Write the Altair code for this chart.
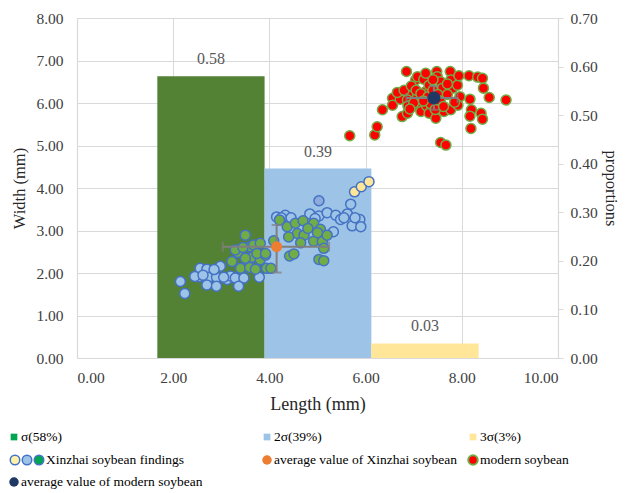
import altair as alt
import pandas as pd

# ---------------- data ----------------
bar_labels = ["σ", "2σ", "3σ"]
bar_x0 = [1.67, 3.90, 6.12]
bar_x1 = [3.90, 6.12, 8.35]
bar_prop = [0.58, 0.39, 0.03]
bar_text = ["0.58", "0.39", "0.03"]
bar_colors = ["#548235", "#9DC3E6", "#FFE699"]

xz_blue_x = [2.15, 2.24, 2.53, 2.56, 2.70, 2.98, 2.74, 2.90, 2.70, 2.90, 3.12, 3.19, 3.29, 3.47, 3.36, 3.79,
             2.45, 2.62, 2.85, 3.05,
             4.15, 4.33, 4.84, 5.03, 5.20, 5.38, 5.48, 5.62, 5.69, 5.72, 5.88, 5.90, 5.33, 4.25, 4.95, 5.55, 5.78, 4.45]
xz_blue_y = [1.80, 1.52, 1.91, 2.11, 2.09, 2.16, 1.90, 1.90, 1.72, 1.69, 1.85, 1.93, 1.88, 1.88, 1.69, 1.90,
             1.92, 1.95, 2.08, 1.90,
             3.32, 3.36, 3.39, 3.34, 3.42, 3.36, 3.26, 3.39, 3.62, 3.11, 3.26, 3.09, 2.97, 3.30, 3.28, 3.30, 3.30, 3.30]
xz_dark_x = [5.03]
xz_dark_y = [3.70]
xz_yellow_x = [5.77, 5.91, 6.07]
xz_yellow_y = [3.91, 4.03, 4.15]
xz_green_x = [3.50, 3.34, 3.22, 3.40, 3.60, 3.67, 3.81, 3.64, 3.59, 3.71, 3.81, 3.92, 3.94, 4.03, 3.74, 3.29, 3.50, 3.45,
              4.21, 4.37, 4.54, 4.70, 4.92, 5.06, 4.58, 4.72, 4.40, 4.65, 4.92, 5.10, 5.20, 5.13, 4.42, 4.51, 5.03, 5.13,
              4.09, 3.92, 4.80, 5.00]
xz_green_y = [2.89, 2.48, 2.27, 2.11, 2.62, 2.66, 2.70, 2.37, 2.13, 2.09, 2.31, 2.42, 2.11, 2.11, 2.46, 2.54, 2.35, 2.60,
              3.25, 3.09, 3.17, 3.23, 3.17, 3.03, 2.93, 2.89, 2.85, 2.71, 2.75, 2.74, 2.89, 2.58, 2.40, 2.45, 2.32, 2.29,
              2.76, 2.46, 3.05, 2.95]

modern_x = [5.67, 6.19, 6.24, 6.35, 6.56, 6.56, 6.72, 6.76, 6.87, 6.85, 7.04, 7.08, 7.21, 6.97, 7.08, 7.11, 7.15,
            7.27, 7.32, 7.25, 7.32, 7.46, 7.48, 7.49, 7.56, 7.60, 7.76, 7.77, 7.81, 7.91, 7.94, 7.96, 7.63, 7.77,
            7.92, 7.56, 7.67, 8.15, 8.33, 8.43, 8.45, 8.57, 8.17, 8.20, 8.40, 8.17, 8.43, 8.19, 8.92, 6.87, 6.88,
            6.66, 6.80, 6.95, 7.05, 7.15, 7.30, 7.40, 7.50, 7.70, 7.55, 7.35, 7.20, 7.00, 6.92, 7.45, 7.62, 7.85,
            7.70, 7.40, 7.25]
modern_y = [5.23, 5.25, 5.44, 5.84, 6.11, 5.95, 6.09, 5.68, 5.76, 6.74, 6.54, 6.62, 6.56, 6.19, 6.15, 5.91, 5.80,
            5.93, 5.76, 6.27, 6.42, 5.64, 6.74, 6.62, 6.50, 6.35, 6.74, 6.54, 6.35, 6.42, 6.64, 6.15, 5.80, 5.84,
            5.95, 5.07, 5.01, 6.64, 6.61, 6.58, 6.35, 6.13, 6.09, 5.84, 5.76, 5.69, 5.62, 5.40, 6.07, 6.07, 5.93,
            6.25, 6.30, 6.40, 6.30, 6.22, 6.15, 6.30, 6.20, 6.20, 6.05, 5.98, 6.05, 6.00, 5.86, 5.85, 5.92, 6.02,
            6.45, 6.55, 6.70]

xz_avg = {"x": 4.15, "y": 2.62, "xlo": 3.03, "xhi": 5.24, "ylo": 2.01, "yhi": 3.13}
mod_avg = {"x": 7.42, "y": 6.12, "xlo": 6.85, "xhi": 7.91, "ylo": 5.84, "yhi": 6.40}

FONT = "Liberation Serif"

bars = pd.DataFrame({"label": bar_labels, "x0": bar_x0, "x1": bar_x1, "p": bar_prop, "t": bar_text,
                     "c": bar_colors})
bars["xm"] = (bars["x0"] + bars["x1"]) / 2

xscale = alt.Scale(domain=[0, 10], nice=False)
yL = alt.Scale(domain=[0, 8], nice=False)
yR = alt.Scale(domain=[0, 0.7], nice=False)

x_axis = alt.Axis(values=[0, 2, 4, 6, 8, 10], format=".2f", title="Length (mm)", grid=True,
                  ticks=False, labelPadding=12, titlePadding=10, titleFontSize=18)
right_axis = alt.Axis(orient="right", values=[0, .1, .2, .3, .4, .5, .6, .7],
                      format=".2f", title="proportions", grid=False, ticks=True,
                      tickSize=5, tickColor="#D9D9D9", labelPadding=7, titlePadding=5)
left_axis = alt.Axis(orient="left", values=list(range(9)), format=".2f", title="Width (mm)", grid=True,
                     ticks=False, labelPadding=14, titlePadding=8)

# right axis group (bars)
bar_layer = alt.Chart(bars).mark_rect().encode(
    x=alt.X("x0:Q", scale=xscale, axis=x_axis),
    x2="x1:Q",
    y=alt.Y("p:Q", scale=yR, axis=right_axis),
    y2=alt.datum(0),
    color=alt.Color("c:N", scale=None),
)
bar_text_layer = alt.Chart(bars).mark_text(font=FONT, fontSize=16, color="#595959", dy=-17,
                                            baseline="middle").encode(
    x=alt.X("xm:Q", scale=xscale, axis=x_axis),
    y=alt.Y("p:Q", scale=yR, axis=right_axis),
    text="t:N",
)
right_group = alt.layer(bar_layer, bar_text_layer)


def pts(xs, ys, fill, stroke, size=100, sw=1.5):
    df = pd.DataFrame({"x": xs, "y": ys})
    return alt.Chart(df).mark_point(filled=True, shape="circle", fill=fill, stroke=stroke,
                                    strokeWidth=sw, size=size, opacity=1).encode(
        x=alt.X("x:Q", scale=xscale, axis=x_axis),
        y=alt.Y("y:Q", scale=yL, axis=left_axis),
    )


p_blue = pts(xz_blue_x, xz_blue_y, "#9DC3E6", "#4472C4")
p_green = pts(xz_green_x, xz_green_y, "#70AD47", "#4472C4")
p_dark = pts(xz_dark_x, xz_dark_y, "#8FAADC", "#4472C4")
p_yel = pts(xz_yellow_x, xz_yellow_y, "#FFE699", "#4472C4")
p_mod = pts(modern_x, modern_y, "#FF0000", "#70AD47")


def errbars(a, color="#7F7F7F"):
    df = pd.DataFrame([a])
    X = lambda f: alt.X(f, scale=xscale, axis=x_axis)
    Y = lambda f: alt.Y(f, scale=yL, axis=left_axis)
    h = alt.Chart(df).mark_rule(color=color, strokeWidth=2).encode(x=X("xlo:Q"), x2="xhi:Q", y=Y("y:Q"))
    v = alt.Chart(df).mark_rule(color=color, strokeWidth=2).encode(x=X("x:Q"), y=Y("ylo:Q"), y2="yhi:Q")
    capl = alt.Chart(df).mark_tick(color=color, orient="vertical", size=10, thickness=2).encode(
        x=X("xlo:Q"), y=Y("y:Q"))
    capr = alt.Chart(df).mark_tick(color=color, orient="vertical", size=10, thickness=2).encode(
        x=X("xhi:Q"), y=Y("y:Q"))
    capb = alt.Chart(df).mark_tick(color=color, orient="horizontal", size=10, thickness=2).encode(
        x=X("x:Q"), y=Y("ylo:Q"))
    capt = alt.Chart(df).mark_tick(color=color, orient="horizontal", size=10, thickness=2).encode(
        x=X("x:Q"), y=Y("yhi:Q"))
    return [h, v, capl, capr, capb, capt]


xz_err = errbars(xz_avg)
mod_err = errbars(mod_avg)
p_xzavg = pts([xz_avg["x"]], [xz_avg["y"]], "#ED7D31", "#ED7D31", size=120, sw=0)
p_modavg = pts([mod_avg["x"]], [mod_avg["y"]], "#203864", "#203864", size=170, sw=0)

# ---------------- legend (decoration) ----------------
one = alt.Data(values=[{"a": 1}])
LFS = 13.5


def lg_square(px, py, color):
    return alt.Chart(one).mark_square(size=45, color=color, opacity=1).encode(
        x=alt.value(px), y=alt.value(py))


def lg_circle(px, py, fill, stroke, sw=1.5, size=90):
    return alt.Chart(one).mark_point(filled=True, shape="circle", fill=fill, stroke=stroke,
                                     strokeWidth=sw, size=size, opacity=1).encode(
        x=alt.value(px), y=alt.value(py))


def lg_text(px, py, t):
    return alt.Chart(one).mark_text(text=t, font=FONT, fontSize=LFS, align="left", baseline="middle",
                                    color="#000000").encode(x=alt.value(px), y=alt.value(py))


r1, r2, r3 = 419, 442, 464
c1, c2, c3 = -63, 190, 396
legend = [
    lg_square(c1, r1, "#00A651"), lg_text(c1 + 7, r1, "σ(58%)"),
    lg_square(c2, r1, "#9DC3E6"), lg_text(c2 + 7, r1, "2σ(39%)"),
    lg_square(c3, r1, "#FFE699"), lg_text(c3 + 7, r1, "3σ(3%)"),
    lg_circle(c1 + 1, r2, "#FFF2A8", "#4472C4"), lg_circle(c1 + 13, r2, "#9DC3E6", "#4472C4"),
    lg_circle(c1 + 25, r2, "#00A651", "#4472C4"), lg_text(c1 + 32, r2, "Xinzhai soybean findings"),
    lg_circle(c2, r2, "#ED7D31", "#ED7D31", sw=0), lg_text(c2 + 7, r2, "average value of Xinzhai soybean"),
    lg_circle(c3, r2, "#FF0000", "#70AD47", sw=2), lg_text(c3 + 7, r2, "modern soybean"),
    lg_circle(c1, r3, "#203864", "#203864", sw=0), lg_text(c1 + 7, r3, "average value of modern soybean"),
]

left_group = alt.layer(p_blue, p_green, p_dark, p_yel, p_mod, *xz_err, p_xzavg, *mod_err, p_modavg, *legend)

chart = alt.layer(right_group, left_group).resolve_scale(y="independent").properties(
    width=481, height=340,
    autosize=alt.AutoSizeParams(type="none"),
    padding={"left": 69, "top": 10, "right": 67, "bottom": 132},
).configure_view(stroke=None).configure_axis(
    labelFont=FONT, titleFont=FONT, labelFontSize=15.5, titleFontSize=16.5,
    labelColor="#404040", titleColor="#262626", titleFontWeight="normal",
    gridColor="#D9D9D9", domainColor="#D9D9D9", domainWidth=1.2,
)

chart.save("out.html", embed_options={"renderer": "svg", "actions": False})
